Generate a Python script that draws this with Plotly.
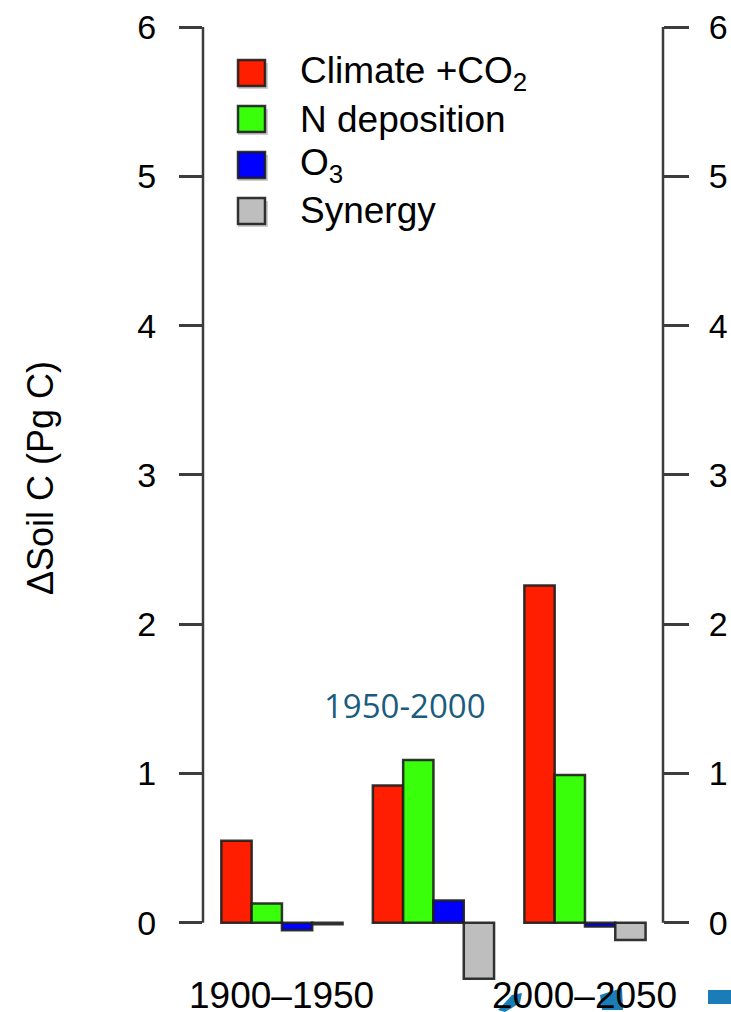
import plotly.graph_objects as go

# ---------------- data ----------------
periods = ["1900–1950", "1950–2000", "2000–2050"]
period_labels = ["1900–1950", "", "2000–2050"]
series_names = ["Climate +CO<sub>2</sub>", "N deposition", "O<sub>3</sub>", "Synergy"]
climate_co2 = [0.55, 0.92, 2.26]
n_deposition = [0.13, 1.09, 0.99]
ozone = [-0.05, 0.15, -0.025]
synergy = [-0.01, -0.375, -0.115]
series_colors = ["#FF1E00", "#39FF0A", "#0000FF", "#BEBEBE"]
y_ticks = [0, 1, 2, 3, 4, 5, 6]
overlay_label = "1950-2000"

# ---------------- layout geometry ----------------
W, H = 731, 1012
ML, MR, MT, MB = 203, 68, 27, 22
PW, PH = W - ML - MR, H - MT - MB


def pxx(px):
    return (px - ML) / PW


def pxy(py):
    return (H - MB - py) / PH


fig = go.Figure()
values = [climate_co2, n_deposition, ozone, synergy]
for name, vals, col in zip(series_names, values, series_colors):
    fig.add_trace(go.Bar(
        x=periods, y=vals, name=name,
        marker=dict(color=col, line=dict(color="rgba(30,30,30,0.9)", width=2.5)),
        showlegend=False,
    ))

# invisible trace to bind right axis
fig.add_trace(go.Scatter(x=[periods[0]], y=[None], yaxis="y2", showlegend=False,
                         mode="markers", hoverinfo="skip"))

axis_col = "#3c3c3c"
tickfont = dict(family="Liberation Sans, Arial", size=34, color="black")

fig.update_layout(
    width=W, height=H, autosize=False,
    margin=dict(l=ML, r=MR, t=MT, b=MB, pad=0, autoexpand=False),
    paper_bgcolor="white", plot_bgcolor="white",
    barmode="group", bargap=0.2, bargroupgap=0,
    xaxis=dict(range=[-0.521, 2.515], showticklabels=False, ticks="",
               showline=False, showgrid=False, zeroline=False, automargin=False),
    yaxis=dict(range=[-0.45, 6], tickvals=y_ticks, ticktext=[str(v) for v in y_ticks],
               ticks="outside", ticklen=23, tickwidth=2.5, tickcolor=axis_col,
               showline=False, showgrid=False, zeroline=False, automargin=False,
               tickfont=tickfont, ticklabelstandoff=16),
    yaxis2=dict(range=[-0.45, 6], tickvals=y_ticks, ticktext=[str(v) for v in y_ticks],
                overlaying="y", side="right", anchor="x", automargin=False,
                ticks="outside", ticklen=25, tickwidth=2.5, tickcolor=axis_col,
                showline=False, showgrid=False, zeroline=False,
                tickfont=tickfont, ticklabelstandoff=13),
)

shapes = []
# R-style axis lines spanning only the tick range
for xp in (0, 1):
    shapes.append(dict(type="line", xref="paper", yref="y", x0=xp, x1=xp,
                       y0=y_ticks[0], y1=y_ticks[-1],
                       line=dict(color=axis_col, width=2.5)))

annotations = []
# manual legend
row_px = [73, 119, 165, 211]
for i, (name, col) in enumerate(zip(series_names, series_colors)):
    cy = row_px[i]
    shapes.append(dict(type="rect", xref="paper", yref="paper",
                       x0=pxx(238), x1=pxx(268), y0=pxy(cy + 16), y1=pxy(cy - 10),
                       fillcolor="#cfcfcf", line=dict(width=0), layer="above"))
    shapes.append(dict(type="rect", xref="paper", yref="paper",
                       x0=pxx(238), x1=pxx(265), y0=pxy(cy + 13), y1=pxy(cy - 13),
                       fillcolor=col, line=dict(color="rgba(30,30,30,0.9)", width=2.5),
                       layer="above"))
    annotations.append(dict(text=name, xref="paper", yref="paper",
                            x=pxx(298), y=pxy(cy), xanchor="left", yanchor="middle",
                            showarrow=False,
                            font=dict(family="Liberation Sans, Arial", size=37, color="black")))

# y-axis title
annotations.append(dict(text="ΔSoil C (Pg C)", xref="paper", yref="paper",
                        x=pxx(40), y=pxy(478), textangle=-90, showarrow=False,
                        xanchor="center", yanchor="middle",
                        font=dict(family="Liberation Sans, Arial", size=36, color="black")))

# period labels under groups
for i, lab in enumerate(period_labels):
    if lab:
        annotations.append(dict(text=lab, xref="x", yref="paper", x=i, y=pxy(995),
                                xanchor="center", yanchor="middle", showarrow=False,
                                font=dict(family="Liberation Sans, Arial", size=37, color="black")))

# overlaid teal label
annotations.append(dict(text=overlay_label, xref="paper", yref="paper",
                        x=pxx(405), y=pxy(705), xanchor="center", yanchor="middle",
                        showarrow=False,
                        font=dict(family="Open Sans", size=33, color="#1A5C7E")))

# small blue overlay fragments at the bottom edge
blue = "#1B7DB8"


def ppath(pts):
    d = "M " + " L ".join(f"{pxx(x):.5f},{pxy(y):.5f}" for x, y in pts) + " Z"
    return d


shapes.append(dict(type="rect", xref="paper", yref="paper",
                   x0=pxx(708), x1=pxx(731), y0=pxy(1004), y1=pxy(990),
                   fillcolor=blue, line=dict(width=0), layer="below"))
shapes.append(dict(type="path", xref="paper", yref="paper",
                   path=ppath([(498, 1010), (512, 995), (522, 993), (520, 1003), (505, 1012)]),
                   fillcolor=blue, line=dict(width=0), layer="below"))
shapes.append(dict(type="path", xref="paper", yref="paper",
                   path=ppath([(600, 995), (622, 988), (623, 1010), (602, 1010)]),
                   fillcolor=blue, line=dict(width=0), layer="below"))

fig.update_layout(shapes=shapes, annotations=annotations)
fig.write_html("out.html")
